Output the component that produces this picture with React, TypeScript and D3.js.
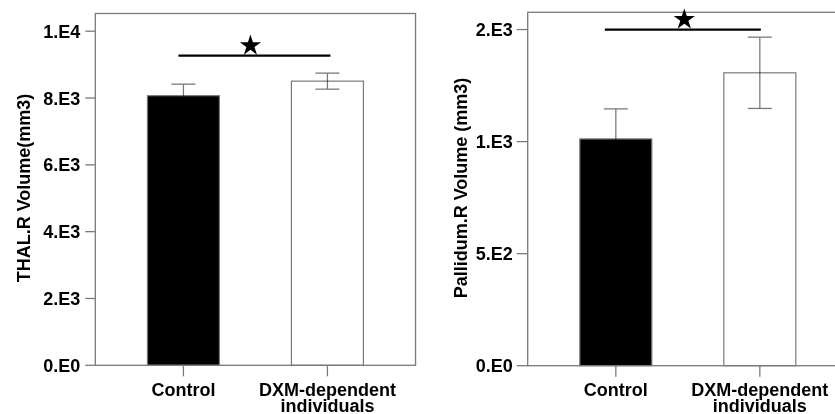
import React from "react";
import * as d3 from "d3";

// groups on the x axis
const groups = ["Control", "DXM-dependent individuals"];
const barFills = ["#000000", "#ffffff"];

// THAL.R volume (mm3): mean and error
const thalMean = [8070, 8505];
const thalErr = [345, 240];
const thalTicks = [0, 2000, 4000, 6000, 8000, 10000];
const thalTickLabels = ["0.E0", "2.E3", "4.E3", "6.E3", "8.E3", "1.E4"];
const thalMax = 10530;
const thalSig = 9270;

// Pallidum.R volume (mm3): mean and error
const pallMean = [1012, 1307];
const pallErr = [134, 159];
const pallTicks = [0, 500, 1000, 1500];
const pallTickLabels = ["0.E0", "5.E2", "1.E3", "2.E3"];
const pallMax = 1577;
const pallSig = 1500;

const FONT = "'Liberation Sans', Arial, sans-serif";
const GRAY = "#7a7a7a";

type PanelProps = {
  x0: number;
  top: number;
  bottom: number;
  title: string;
  titleX: number;
  mean: number[];
  err: number[];
  ticks: number[];
  tickLabels: string[];
  yMax: number;
  sig: number;
  sigLeft: number;
  sigRight: number;
  starDx: number;
  tickLen: number;
  labelGap: number;
};

const Panel = (p: PanelProps) => {
  const step = 144;
  const width = step * 2.224;
  const x = d3.scalePoint<string>().domain(groups).range([p.x0, p.x0 + width]).padding(0.612);
  const y = d3.scaleLinear().domain([0, p.yMax]).range([p.bottom, p.top]);
  const barW = step * 0.5;
  const capW = 24;
  const c0 = x(groups[0])!;
  const c1 = x(groups[1])!;
  const star = d3.symbol(d3.symbolStar, 140)()!;

  return (
    <g>
      {/* bars */}
      {groups.map((g, i) => (
        <rect
          key={g}
          x={x(g)! - barW / 2}
          y={y(p.mean[i])}
          width={barW}
          height={y(0) - y(p.mean[i])}
          fill={barFills[i]}
          stroke={GRAY}
          strokeWidth={1.2}
        />
      ))}
      {/* error bars */}
      {groups.map((g, i) => {
        const cx = x(g)!;
        const hi = y(p.mean[i] + p.err[i]);
        const lo = y(p.mean[i] - p.err[i]);
        return (
          <g key={g} stroke={GRAY} strokeWidth={1.3} style={{ mixBlendMode: "multiply" }}>
            <line x1={cx} x2={cx} y1={hi} y2={lo} />
            <line x1={cx - capW / 2} x2={cx + capW / 2} y1={hi} y2={hi} />
            <line x1={cx - capW / 2} x2={cx + capW / 2} y1={lo} y2={lo} />
          </g>
        );
      })}
      {/* frame */}
      <rect
        x={p.x0}
        y={p.top}
        width={width}
        height={p.bottom - p.top}
        fill="none"
        stroke={GRAY}
        strokeWidth={1.3}
      />
      {/* y ticks */}
      {p.ticks.map((t, i) => (
        <g key={t}>
          <line x1={p.x0 - p.tickLen} x2={p.x0} y1={y(t)} y2={y(t)} stroke={GRAY} strokeWidth={1.3} />
          <text
            x={p.x0 - p.tickLen - p.labelGap}
            y={y(t)}
            dy="0.36em"
            textAnchor="end"
            fontFamily={FONT}
            fontWeight="bold"
            fontSize={18}
            fill="#000"
          >
            {p.tickLabels[i]}
          </text>
        </g>
      ))}
      {/* x ticks and labels */}
      {groups.map((g) => (
        <g key={g}>
          <line x1={x(g)} x2={x(g)} y1={p.bottom} y2={p.bottom + 11} stroke={GRAY} strokeWidth={1.3} />
          {g === "Control" ? (
            <text x={x(g)} y={396} textAnchor="middle" fontFamily={FONT} fontWeight="bold" fontSize={18} fill="#000">
              {g}
            </text>
          ) : (
            <text x={x(g)} y={395.5} textAnchor="middle" fontFamily={FONT} fontWeight="bold" fontSize={18} fill="#000">
              <tspan x={x(g)}>DXM-dependent</tspan>
              <tspan x={x(g)} dy={16}>
                individuals
              </tspan>
            </text>
          )}
        </g>
      ))}
      {/* y title */}
      <text
        transform={`translate(${p.titleX},188) rotate(-90)`}
        textAnchor="middle"
        dy="0.35em"
        fontFamily={FONT}
        fontWeight="bold"
        fontSize={18}
        fill="#000"
      >
        {p.title}
      </text>
      {/* significance */}
      <line
        x1={c0 + p.sigLeft}
        x2={c1 + p.sigRight}
        y1={y(p.sig)}
        y2={y(p.sig)}
        stroke="#000"
        strokeWidth={2.2}
      />
      <path
        d={star}
        transform={`translate(${(c0 + c1) / 2 + p.starDx},${y(p.sig) - 10})`}
        fill="#000"
      />
    </g>
  );
};

export default function App() {
  return (
    <svg
      width={835}
      height={414}
      style={{ position: "absolute", left: 0, top: 0, background: "#fff" }}
    >
      <rect width={835} height={414} fill="#fff" />
      <Panel
        x0={95.3}
        top={13.5}
        bottom={365.3}
        title="THAL.R Volume(mm3)"
        titleX={24}
        mean={thalMean}
        err={thalErr}
        ticks={thalTicks}
        tickLabels={thalTickLabels}
        yMax={thalMax}
        sig={thalSig}
        sigLeft={-5}
        sigRight={3}
        starDx={-5}
        tickLen={10}
        labelGap={5}
      />
      <Panel
        x0={527.7}
        top={12.3}
        bottom={365.7}
        title="Pallidum.R Volume (mm3)"
        titleX={461}
        mean={pallMean}
        err={pallErr}
        ticks={pallTicks}
        tickLabels={pallTickLabels}
        yMax={pallMax}
        sig={pallSig}
        sigLeft={-11}
        sigRight={1}
        starDx={-3.5}
        tickLen={11}
        labelGap={4}
      />
    </svg>
  );
}
